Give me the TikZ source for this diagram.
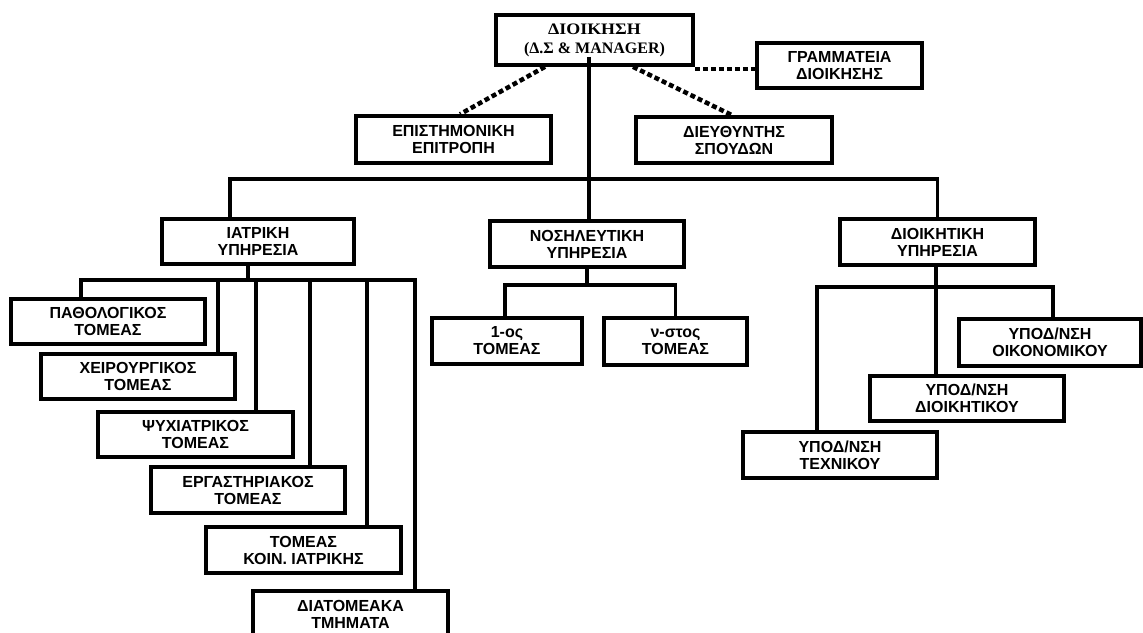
\documentclass[tikz,border=0pt]{standalone}
\usepackage{fontspec}
\setmainfont{Liberation Sans}
\newfontfamily\seriffont{Liberation Serif}
\begin{document}
\begin{tikzpicture}[x=1pt,y=-1pt,
  box/.style={draw, line width=3.6pt, fill=white, inner sep=0pt, align=center,
    minimum width=194pt, minimum height=46pt,
    font=\bfseries\fontsize{16}{17}\selectfont},
  topbox/.style={box, font=\seriffont\bfseries\fontsize{16}{19}\selectfont},
  link/.style={line width=3.6pt},
  dots/.style={line width=4.5pt, dash pattern=on 5pt off 3pt}]
\useasboundingbox (0,0) rectangle (1143,632);
\clip (0,0) rectangle (1143,632);

% management level
\node[topbox, minimum width=197pt, minimum height=50pt] (dioik) at (594.5,40) {\scalebox{1.12}[1]{ΔΙΟΙΚΗΣΗ}\\(Δ.Σ \& MANAGER)};
\node[box, minimum width=165pt, minimum height=45pt] (gram) at (839.5,65.5) {ΓΡΑΜΜΑΤΕΙΑ\\ΔΙΟΙΚΗΣΗΣ};
\node[box, minimum width=195pt, minimum height=47pt] (epist) at (453.5,139.5) {ΕΠΙΣΤΗΜΟΝΙΚΗ\\ΕΠΙΤΡΟΠΗ};
\node[box, minimum width=196pt] (dieyth) at (734,140) {ΔΙΕΥΘΥΝΤΗΣ\\ΣΠΟΥΔΩΝ};

% services
\node[box, minimum width=192pt, minimum height=45pt] (iatr) at (258,241.5) {ΙΑΤΡΙΚΗ\\ΥΠΗΡΕΣΙΑ};
\node[box] (nosil) at (587,244) {ΝΟΣΗΛΕΥΤΙΚΗ\\ΥΠΗΡΕΣΙΑ};
\node[box, minimum width=195pt] (dioikit) at (937.5,242) {ΔΙΟΙΚΗΤΙΚΗ\\ΥΠΗΡΕΣΙΑ};

% nursing sectors
\node[box, minimum width=150pt] (tom1) at (507,341) {1-ος\\ΤΟΜΕΑΣ};
\node[box, minimum width=143pt, minimum height=47pt] (tomn) at (675.5,341.5) {ν-στος\\ΤΟΜΕΑΣ};

% administrative sub-directorates
\node[box, minimum width=182pt, minimum height=47pt] (oik) at (1050,342.5) {ΥΠΟΔ/ΝΣΗ\\ΟΙΚΟΝΟΜΙΚΟΥ};
\node[box, minimum height=45pt] (dk) at (967,398.5) {ΥΠΟΔ/ΝΣΗ\\ΔΙΟΙΚΗΤΙΚΟΥ};
\node[box] (tex) at (840,455) {ΥΠΟΔ/ΝΣΗ\\ΤΕΧΝΙΚΟΥ};

% medical sectors
\node[box, minimum height=45pt] (path) at (108,321.5) {ΠΑΘΟΛΟΓΙΚΟΣ\\ΤΟΜΕΑΣ};
\node[box, minimum height=45pt] (xeir) at (138,376.5) {ΧΕΙΡΟΥΡΓΙΚΟΣ\\ΤΟΜΕΑΣ};
\node[box, minimum width=195pt, minimum height=45pt] (psyx) at (195.5,434.5) {ΨΥΧΙΑΤΡΙΚΟΣ\\ΤΟΜΕΑΣ};
\node[box] (erg) at (248,490) {ΕΡΓΑΣΤΗΡΙΑΚΟΣ\\ΤΟΜΕΑΣ};
\node[box, minimum width=195pt] (koin) at (303.5,550) {ΤΟΜΕΑΣ\\ΚΟΙΝ. ΙΑΤΡΙΚΗΣ};
\node[box, minimum width=195pt] (diat) at (350.5,614) {ΔΙΑΤΟΜΕΑΚΑ\\ΤΜΗΜΑΤΑ};

% bus levels
\coordinate (mainbus) at (0,179);
\coordinate (medbus) at (0,280);
\coordinate (nurbus) at (0,285);
\coordinate (admbus) at (0,287);

% staff links (dotted)
\draw[dots] ([xshift=-49.5]dioik.south) -- ([xshift=6.5]epist.north);
\draw[dots] ([xshift=38.5]dioik.south) -- ([xshift=-2]dieyth.north);
\draw[dots] ([yshift=-2]dioik.south east) -- ([yshift=-2]gram.west |- dioik.south east);

% main line of command
\draw[link] ([xshift=-5.5,yshift=10]dioik.south) -- ([xshift=-5.5]dioik.south |- nosil.north);
\draw[link] ([xshift=-28]iatr.north) |- (dioikit.north |- mainbus) -- (dioikit.north);

% medical service
\draw[link] ([xshift=-10]iatr.south) -- ([xshift=-10]iatr.south |- medbus);
\draw[link] ([xshift=-27]path.north) |- ([xshift=64.5]diat.north |- medbus) -- ([xshift=64.5]diat.north);
\draw[link] ([xshift=80]xeir.north) -- ([xshift=80]xeir.north |- medbus);
\draw[link] ([xshift=60.5]psyx.north) -- ([xshift=60.5]psyx.north |- medbus);
\draw[link] ([xshift=62]erg.north) -- ([xshift=62]erg.north |- medbus);
\draw[link] ([xshift=63.5]koin.north) -- ([xshift=63.5]koin.north |- medbus);

% nursing service
\draw[link] (nosil.south) -- (nosil.south |- nurbus);
\draw[link] ([xshift=-2]tom1.north) |- (tomn.north |- nurbus) -- (tomn.north);

% administrative service
\draw[link] ([xshift=-1.5]dioikit.south) -- ([xshift=-1.5]dioikit.south |- admbus);
\draw[link] ([xshift=-23]tex.north) |- ([xshift=3]oik.north |- admbus) -- ([xshift=3]oik.north);
\draw[link] ([xshift=-31]dk.north) -- ([xshift=-31]dk.north |- admbus);
\end{tikzpicture}
\end{document}
